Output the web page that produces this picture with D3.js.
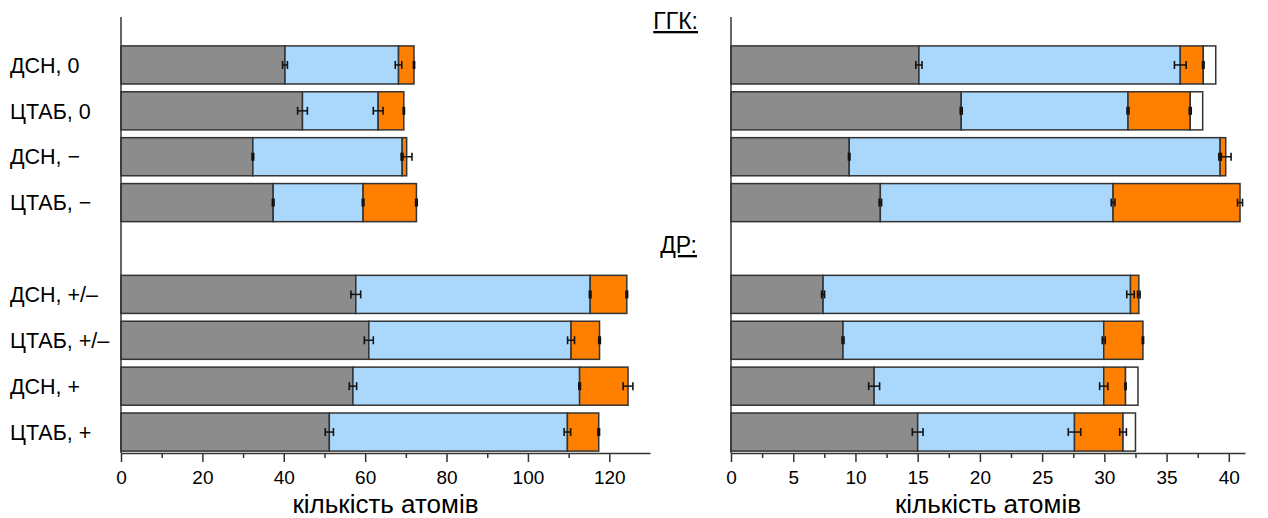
<!DOCTYPE html>
<html>
<head>
<meta charset="utf-8">
<script src="https://cdn.jsdelivr.net/npm/d3@7"></script>
<style>
  body { margin: 0; background: #fff; }
  text { font-family: "Liberation Sans", Arial, sans-serif; fill: #000; }
</style>
</head>
<body>
<div id="chart"></div>
<script>
// categories (top to bottom), blank row between the two groups
var categories = ["ДСН, 0", "ЦТАБ, 0", "ДСН, −", "ЦТАБ, −", "ДСН, +/–", "ЦТАБ, +/–", "ДСН, +", "ЦТАБ, +"];
var seriesColors = ["#8c8c8c", "#aad8fc", "#ff8000", "#ffffff"];

// left panel: segment lengths
var leftGrey   = [40.3, 44.6, 32.4, 37.4, 57.7, 60.9, 57.0, 51.2];
var leftBlue   = [27.9, 18.6, 36.7, 22.1, 57.6, 49.7, 55.7, 58.5];
var leftOrange = [3.8, 6.3, 1.1, 13.1, 9.0, 7.0, 11.9, 7.7];
var leftWhite  = [0, 0, 0, 0, 0, 0, 0, 0];
// left panel: errors at segment ends
var leftGreyErr   = [0.6, 1.2, 0.2, 0.2, 1.2, 1.1, 0.9, 1.0];
var leftBlueErr   = [0.8, 1.2, 0.2, 0.2, 0.2, 0.85, 0.2, 0.8];
var leftOrangeErr = [0.15, 0.15, 1.3, 0.2, 0.2, 0.2, 1.2, 0.2];

// right panel: segment lengths
var rightGrey   = [15.1, 18.5, 9.5, 12.0, 7.4, 9.0, 11.5, 15.0];
var rightBlue   = [21.0, 13.4, 29.8, 18.7, 24.7, 20.95, 18.45, 12.6];
var rightOrange = [1.85, 5.0, 0.45, 10.2, 0.67, 3.15, 1.75, 3.9];
var rightWhite  = [1.0, 1.0, 0, 0, 0, 0, 1.0, 1.0];
var rightGreyErr   = [0.25, 0.08, 0.06, 0.1, 0.12, 0.08, 0.44, 0.43];
var rightBlueErr   = [0.47, 0.08, 0.1, 0.15, 0.3, 0.12, 0.33, 0.5];
var rightOrangeErr = [0.06, 0.08, 0.43, 0.2, 0.1, 0.05, 0.05, 0.27];

var leftTicks = [0, 20, 40, 60, 80, 100, 120];
var leftMinor = [10, 30, 50, 70, 90, 110];
var rightTicks = [0, 5, 10, 15, 20, 25, 30, 35, 40];
var rightMinor = [2.5, 7.5, 12.5, 17.5, 22.5, 27.5, 32.5, 37.5];

var groupTitles = ["ГГК:", "ДР:"];
var xTitle = "кількість атомів";

var svgWidth = 1268;
var svgHeight = 518;

var svg = d3.select("#chart")
  .append("svg")
  .attr("width", svgWidth)
  .attr("height", svgHeight);

// y band scale shared by both panels, with a spacer row
var rowKeys = categories.slice(0, 4).concat(["gap"]).concat(categories.slice(4));
var y = d3.scaleBand()
  .domain(rowKeys)
  .range([42, 455])
  .paddingInner(0.17)
  .paddingOuter(0.085);

var axisY = 453;

function drawPanel(opt) {
  var x = d3.scaleLinear().domain([0, opt.max]).range(opt.range);
  var g = svg.append("g");

  var rows = categories.map(function(c, i) {
    return {cat: c, s0: opt.grey[i], s1: opt.blue[i], s2: opt.orange[i], s3: opt.white[i],
            e0: opt.greyErr[i], e1: opt.blueErr[i], e2: opt.orangeErr[i]};
  });

  var stack = d3.stack().keys(["s0", "s1", "s2", "s3"]);
  var layers = stack(rows);

  layers.forEach(function(layer, k) {
    g.selectAll(null)
      .data(layer.filter(function(d) { return d[1] - d[0] > 0; }))
      .enter()
      .append("rect")
      .attr("x", function(d) { return x(d[0]); })
      .attr("y", function(d) { return y(d.data.cat); })
      .attr("width", function(d) { return x(d[1]) - x(d[0]); })
      .attr("height", y.bandwidth())
      .attr("fill", seriesColors[k])
      .attr("stroke", "#333")
      .attr("stroke-width", 1.5);
  });

  // error bars at ends of grey, blue, orange
  [0, 1, 2].forEach(function(k) {
    var eg = g.selectAll(null)
      .data(layers[k])
      .enter()
      .append("g")
      .attr("transform", function(d) { return "translate(0," + (y(d.data.cat) + y.bandwidth() / 2) + ")"; });
    eg.append("line")
      .attr("x1", function(d) { return x(d[1] - d.data["e" + k]); })
      .attr("x2", function(d) { return x(d[1] + d.data["e" + k]); })
      .attr("stroke", "#111").attr("stroke-width", 1.5);
    eg.append("line")
      .attr("x1", function(d) { return x(d[1] - d.data["e" + k]); })
      .attr("x2", function(d) { return x(d[1] - d.data["e" + k]); })
      .attr("y1", -4).attr("y2", 4)
      .attr("stroke", "#111").attr("stroke-width", 1.6);
    eg.append("line")
      .attr("x1", function(d) { return x(d[1] + d.data["e" + k]); })
      .attr("x2", function(d) { return x(d[1] + d.data["e" + k]); })
      .attr("y1", -4).attr("y2", 4)
      .attr("stroke", "#111").attr("stroke-width", 1.6);
  });

  // y axis line
  g.append("line")
    .attr("x1", x(0)).attr("x2", x(0))
    .attr("y1", 17).attr("y2", axisY)
    .attr("stroke", "#333").attr("stroke-width", 1.5);

  // x axis: minor then major
  var minorAxis = d3.axisBottom(x).tickValues(opt.minor).tickSize(5).tickSizeOuter(0).tickFormat("");
  var gm = g.append("g").attr("transform", "translate(0," + axisY + ")").call(minorAxis);
  gm.select(".domain").remove();
  gm.selectAll("line").attr("stroke", "#333").attr("stroke-width", 1.5);

  var majorAxis = d3.axisBottom(x).tickValues(opt.ticks).tickSize(9).tickSizeOuter(0).tickPadding(9);
  var ga = g.append("g").attr("transform", "translate(0," + axisY + ")").call(majorAxis);
  ga.select(".domain").attr("stroke", "#333").attr("stroke-width", 1.5);
  ga.selectAll("line").attr("stroke", "#333").attr("stroke-width", 1.5);
  ga.selectAll("text")
    .style("font-family", "'Liberation Sans', Arial, sans-serif")
    .style("font-size", "19px")
    .attr("fill", "#000");

  g.append("text")
    .attr("x", (opt.range[0] + opt.range[1]) / 2)
    .attr("y", 513)
    .attr("text-anchor", "middle")
    .style("font-size", "26px")
    .text(xTitle);

  return x;
}

drawPanel({
  max: 130, range: [121, 650], ticks: leftTicks, minor: leftMinor,
  grey: leftGrey, blue: leftBlue, orange: leftOrange, white: leftWhite,
  greyErr: leftGreyErr, blueErr: leftBlueErr, orangeErr: leftOrangeErr
});

drawPanel({
  max: 41.3, range: [731, 1245], ticks: rightTicks, minor: rightMinor,
  grey: rightGrey, blue: rightBlue, orange: rightOrange, white: rightWhite,
  greyErr: rightGreyErr, blueErr: rightBlueErr, orangeErr: rightOrangeErr
});

// category labels
svg.selectAll(".cat")
  .data(categories)
  .enter()
  .append("text")
  .attr("class", "cat")
  .attr("x", 10)
  .attr("y", function(d) { return y(d) + y.bandwidth() / 2; })
  .attr("dy", "0.36em")
  .style("font-size", "21.5px")
  .text(function(d) { return d; });

// group titles
svg.append("text")
  .attr("x", 698).attr("y", 29)
  .attr("text-anchor", "end")
  .style("font-size", "23px")
  .style("text-decoration", "underline")
  .text(groupTitles[0]);

svg.append("text")
  .attr("x", 697).attr("y", 253)
  .attr("text-anchor", "end")
  .style("font-size", "23px")
  .style("text-decoration", "underline")
  .text(groupTitles[1]);
</script>
</body>
</html>
